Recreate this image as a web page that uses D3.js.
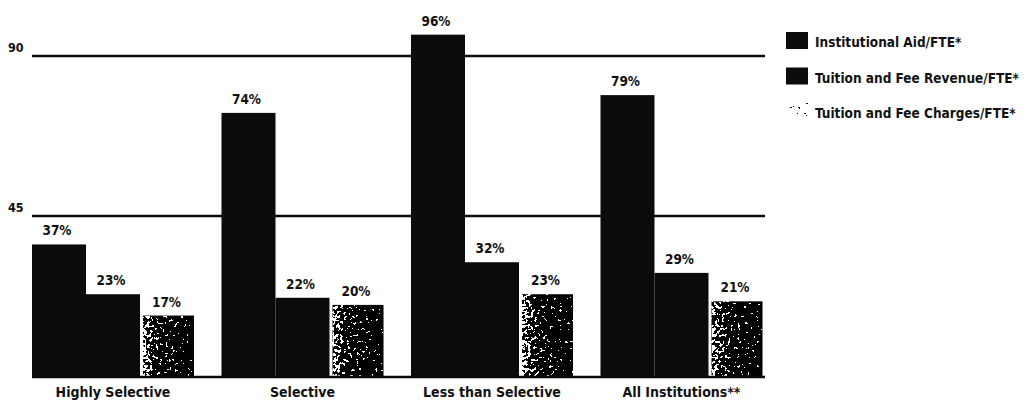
<!DOCTYPE html>
<html>
<head>
<meta charset="utf-8">
<script src="https://cdn.jsdelivr.net/npm/d3@7"></script>
<style>
  html, body { margin: 0; padding: 0; background: #fff; }
  svg { display: block; }
  text { font-family: 'DejaVu Sans Condensed', 'Liberation Sans Narrow', sans-serif; font-weight: bold; fill: #111; }
</style>
</head>
<body>
<svg id="chart" width="1028" height="411"></svg>
<script>
// Categories and series
const categories = ["Highly Selective", "Selective", "Less than Selective", "All Institutions**"];
const seriesNames = ["Institutional Aid/FTE*", "Tuition and Fee Revenue/FTE*", "Tuition and Fee Charges/FTE*"];

// Values (percent)
const institutionalAid = [37, 74, 96, 79];
const tuitionRevenue   = [23, 22, 32, 29];
const tuitionCharges   = [17, 20, 23, 21];

// Reference lines
const yTicks = [45, 90];

const seriesValues = [institutionalAid, tuitionRevenue, tuitionCharges];

const svg = d3.select("#chart");
const ink = "#0b0b0b";

// Speckled (dithered) fill used for the charges series
const defs = svg.append("defs");
const grad = defs.append("linearGradient").attr("id", "chargeShade")
  .attr("x1", 0).attr("x2", 1).attr("y1", 0).attr("y2", 0);
grad.append("stop").attr("offset", "0%").attr("stop-color", "#8a8a8a");
grad.append("stop").attr("offset", "30%").attr("stop-color", "#404040");
grad.append("stop").attr("offset", "100%").attr("stop-color", "#222");

const gradLight = defs.append("linearGradient").attr("id", "chargeShadeLight")
  .attr("x1", 1).attr("x2", 0).attr("y1", 0).attr("y2", 1);
gradLight.append("stop").attr("offset", "0%").attr("stop-color", "#b0b0b0");
gradLight.append("stop").attr("offset", "60%").attr("stop-color", "#f2f2f2");
gradLight.append("stop").attr("offset", "100%").attr("stop-color", "#ffffff");

const filt = defs.append("filter").attr("id", "speckle")
  .attr("x", 0).attr("y", 0).attr("width", 1).attr("height", 1)
  .attr("color-interpolation-filters", "sRGB");
filt.append("feTurbulence").attr("type", "fractalNoise")
  .attr("baseFrequency", 0.32).attr("numOctaves", 2).attr("seed", 5).attr("result", "noise");
filt.append("feColorMatrix").attr("in", "noise").attr("type", "matrix")
  .attr("values", "1 0 0 0 0  1 0 0 0 0  1 0 0 0 0  0 0 0 0 1").attr("result", "grey");
filt.append("feComposite").attr("in", "SourceGraphic").attr("in2", "grey")
  .attr("operator", "arithmetic").attr("k1", 0).attr("k2", 1).attr("k3", 1.6).attr("k4", -0.8)
  .attr("result", "sum");
const ct = filt.append("feComponentTransfer").attr("in", "sum").attr("result", "bw");
["feFuncR", "feFuncG", "feFuncB"].forEach(f => ct.append(f).attr("type", "discrete").attr("tableValues", "0 1"));
filt.append("feComposite").attr("in", "bw").attr("in2", "SourceAlpha").attr("operator", "in");

// Scales
const x0 = d3.scaleBand().domain(categories).range([32, 762.5]).paddingInner(0.145).paddingOuter(0);
const x1 = d3.scaleBand().domain(seriesNames).range([0, x0.bandwidth()]).padding(0);
const y = d3.scaleLinear().domain([0, 90]).range([376, 56]);

const plotLeft = 32, plotRight = 765;

// Horizontal reference lines
svg.append("g").selectAll("line").data(yTicks).join("line")
  .attr("x1", plotLeft).attr("x2", plotRight)
  .attr("y1", d => y(d)).attr("y2", d => y(d))
  .attr("stroke", ink).attr("stroke-width", 2.4);

svg.append("g").selectAll("text").data(yTicks).join("text")
  .attr("x", 8).attr("y", d => y(d) - 4)
  .attr("font-size", 12.5)
  .text(d => d);

// Bars
const bars = [];
categories.forEach((c, ci) => {
  seriesNames.forEach((s, si) => {
    bars.push({ category: c, series: s, si, value: seriesValues[si][ci] });
  });
});

const gap = 3; // small gap before the speckled bar
const barG = svg.append("g");
barG.selectAll("rect").data(bars).join("rect")
  .attr("x", d => x0(d.category) + x1(d.series) + (d.si === 2 ? gap : 0))
  .attr("width", d => x1.bandwidth() - (d.si === 2 ? gap : 0))
  .attr("y", d => y(d.value))
  .attr("height", d => y(0) - y(d.value))
  .attr("fill", d => d.si === 2 ? "url(#chargeShade)" : ink)
  .attr("filter", d => d.si === 2 ? "url(#speckle)" : null);

// Value labels
svg.append("g").selectAll("text").data(bars).join("text")
  .attr("x", d => x0(d.category) + x1(d.series) + x1.bandwidth() / 2 + (d.si === 2 ? gap / 2 : 0) - 2)
  .attr("y", d => y(d.value) - 9)
  .attr("text-anchor", "middle")
  .attr("font-size", 13.5)
  .text(d => d.value + "%");

// Baseline
svg.append("line")
  .attr("x1", plotLeft).attr("x2", plotRight)
  .attr("y1", y(0) + 1).attr("y2", y(0) + 1)
  .attr("stroke", ink).attr("stroke-width", 2.4);

// Category axis labels
const xAxis = d3.axisBottom(x0).tickSize(0).tickPadding(0);
const axisG = svg.append("g").attr("transform", `translate(0,${y(0) + 17})`).call(xAxis);
axisG.select(".domain").remove();
axisG.selectAll("text")
  .attr("font-size", 14)
  .attr("font-family", null)
  .attr("fill", "#111")
  .attr("dy", "0.32em");

// Legend
const legend = svg.append("g").attr("transform", "translate(786,32)");
const legItems = legend.selectAll("g").data(seriesNames).join("g")
  .attr("transform", (d, i) => `translate(0,${i * 35.5})`);
legItems.append("rect")
  .attr("width", 22).attr("height", 17)
  .attr("fill", (d, i) => i === 2 ? "url(#chargeShadeLight)" : ink)
  .attr("filter", (d, i) => i === 2 ? "url(#speckle)" : null);
legItems.append("text")
  .attr("x", 29).attr("y", 15)
  .attr("font-size", 13.5)
  .text(d => d);
</script>
</body>
</html>
